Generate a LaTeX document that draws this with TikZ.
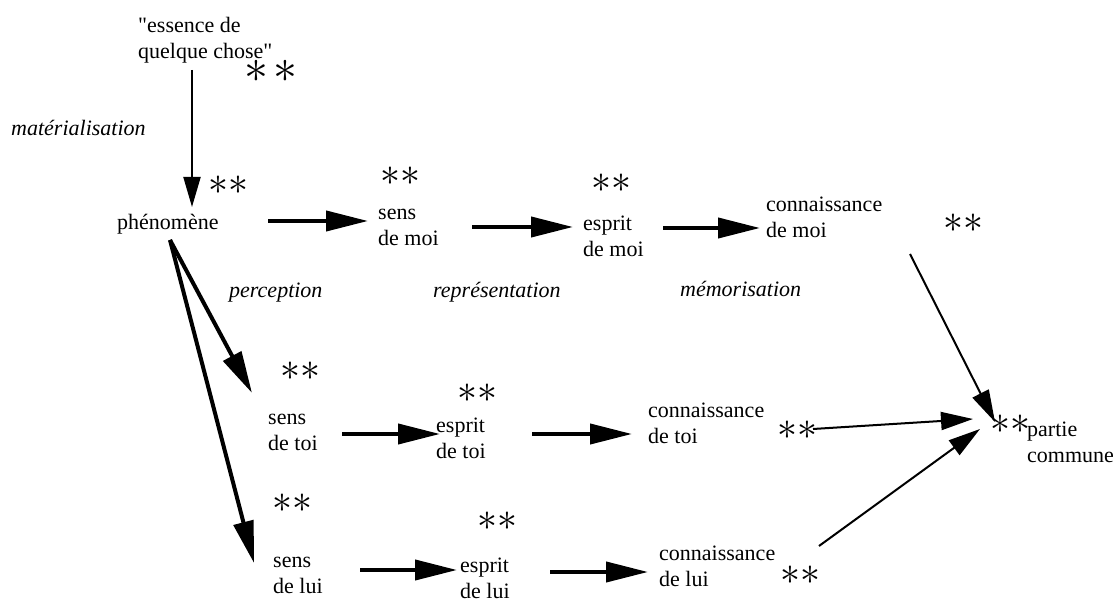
\documentclass[tikz,border=0pt]{standalone}
\usepackage{fontspec}
\setmainfont{Liberation Serif}
\usetikzlibrary{arrows.meta}

\begin{document}
\begin{tikzpicture}[
  x=1pt, y=-1pt,
  txt/.style={anchor=base west, inner sep=0pt, align=left,
              font=\fontsize{22}{26}\selectfont},
  lab/.style={txt, font=\fontsize{22}{26}\selectfont\itshape},
  ast/.style={inner sep=0pt, font=\Huge, scale=1.6},
  thk/.style={-{Triangle[length=42pt,width=20pt]}, line width=4pt},
  thn/.style={-{Triangle[length=32pt,width=18pt]}, line width=2pt},
]
\useasboundingbox (0,0) rectangle (1114,601);

%% ---- source (two-line nodes sit on their last baseline) ----
\node[txt] (ess)  at (138,59)  {\textquotedbl essence de\\quelque chose\textquotedbl};
\node[ast, scale=1.2] (aess) at (271,71) {$\ast\mkern2mu\ast$};
\node[lab] (mat)  at (11,136)  {matérialisation};
\node[txt] (phen) at (117,230) {phénomène};
\node[ast] (aphen) at (228,185) {$\ast\ast$};

%% ---- moi row ----
\node[txt] (sensmoi) at (378,246) {sens\\de moi};
\node[txt] (espmoi)  at (583,257) {esprit\\de moi};
\node[txt] (connmoi) at (766,238) {connaissance\\de moi};
\node[ast] (asensmoi) at (400,176) {$\ast\ast$};
\node[ast] (aespmoi)  at (611,183) {$\ast\ast$};
\node[ast] (aconnmoi) at (963,223) {$\ast\ast$};

%% ---- process labels ----
\node[lab] (perc) at (229,298) {perception};
\node[lab] (repr) at (433,298) {représentation};
\node[lab] (memo) at (680,297) {mémorisation};

%% ---- toi row ----
\node[txt] (senstoi) at (268,450) {sens\\de toi};
\node[txt] (esptoi)  at (436,458) {esprit\\de toi};
\node[txt] (conntoi) at (648,443) {connaissance\\de toi};
\node[ast] (asenstoi) at (300,371) {$\ast\ast$};
\node[ast] (aesptoi)  at (477,393) {$\ast\ast$};
\node[ast] (aconntoi) at (797,430) {$\ast\ast$};

%% ---- lui row ----
\node[txt] (senslui) at (273,593) {sens\\de lui};
\node[txt] (esplui)  at (460,598) {esprit\\de lui};
\node[txt] (connlui) at (659,586) {connaissance\\de lui};
\node[ast] (asenslui) at (292,503) {$\ast\ast$};
\node[ast] (aesplui)  at (497,521) {$\ast\ast$};
\node[ast] (aconnlui) at (800,575) {$\ast\ast$};

%% ---- common part ----
\node[txt] (partie) at (1027,462) {partie\\commune};
\node[ast] (apartie) at (1010,424) {$\ast\ast$};

%% ---- arrows ----
\draw[thn, -{Triangle[length=30pt,width=17pt]}]
  ([shift={(54,11)}]ess.base west) -- ([shift={(75,-23)}]phen.base west);
\draw[thk] ([shift={(151,-9)}]phen.base west) -- ([shift={(-10,-25)}]sensmoi.base west);
\draw[thk] ([shift={(94,-19)}]sensmoi.base west) -- ([shift={(-10,-30)}]espmoi.base west);
\draw[thk] ([shift={(80,-29)}]espmoi.base west) -- ([shift={(-6,-10)}]connmoi.base west);
% fan out from the phenomenon
\draw[thk] ([shift={(53,10)}]phen.base west) -- ([shift={(-16,-57)}]senstoi.base west);
\draw[thk] ([shift={(53,10)}]phen.base west) -- ([shift={(-19,-30)}]senslui.base west);
\draw[thk] ([shift={(74,-16)}]senstoi.base west) -- ([shift={(4,-24)}]esptoi.base west);
\draw[thk] ([shift={(96,-24)}]esptoi.base west) -- ([shift={(-16,-9)}]conntoi.base west);
\draw[thk] ([shift={(87,-23)}]senslui.base west) -- ([shift={(-3,-28)}]esplui.base west);
\draw[thk] ([shift={(90,-26)}]esplui.base west) -- ([shift={(-11,-14)}]connlui.base west);
% towards the common part
\draw[thn] ([shift={(144,16)}]connmoi.base west) -- ([shift={(-32,-40)}]partie.base west);
\draw[thn] ([shift={(16,-1)}]aconntoi.center) -- ([shift={(-54,-43)}]partie.base west);
\draw[thn] ([shift={(19,-29)}]aconnlui.center) -- ([shift={(-47,-33)}]partie.base west);

\end{tikzpicture}
\end{document}
